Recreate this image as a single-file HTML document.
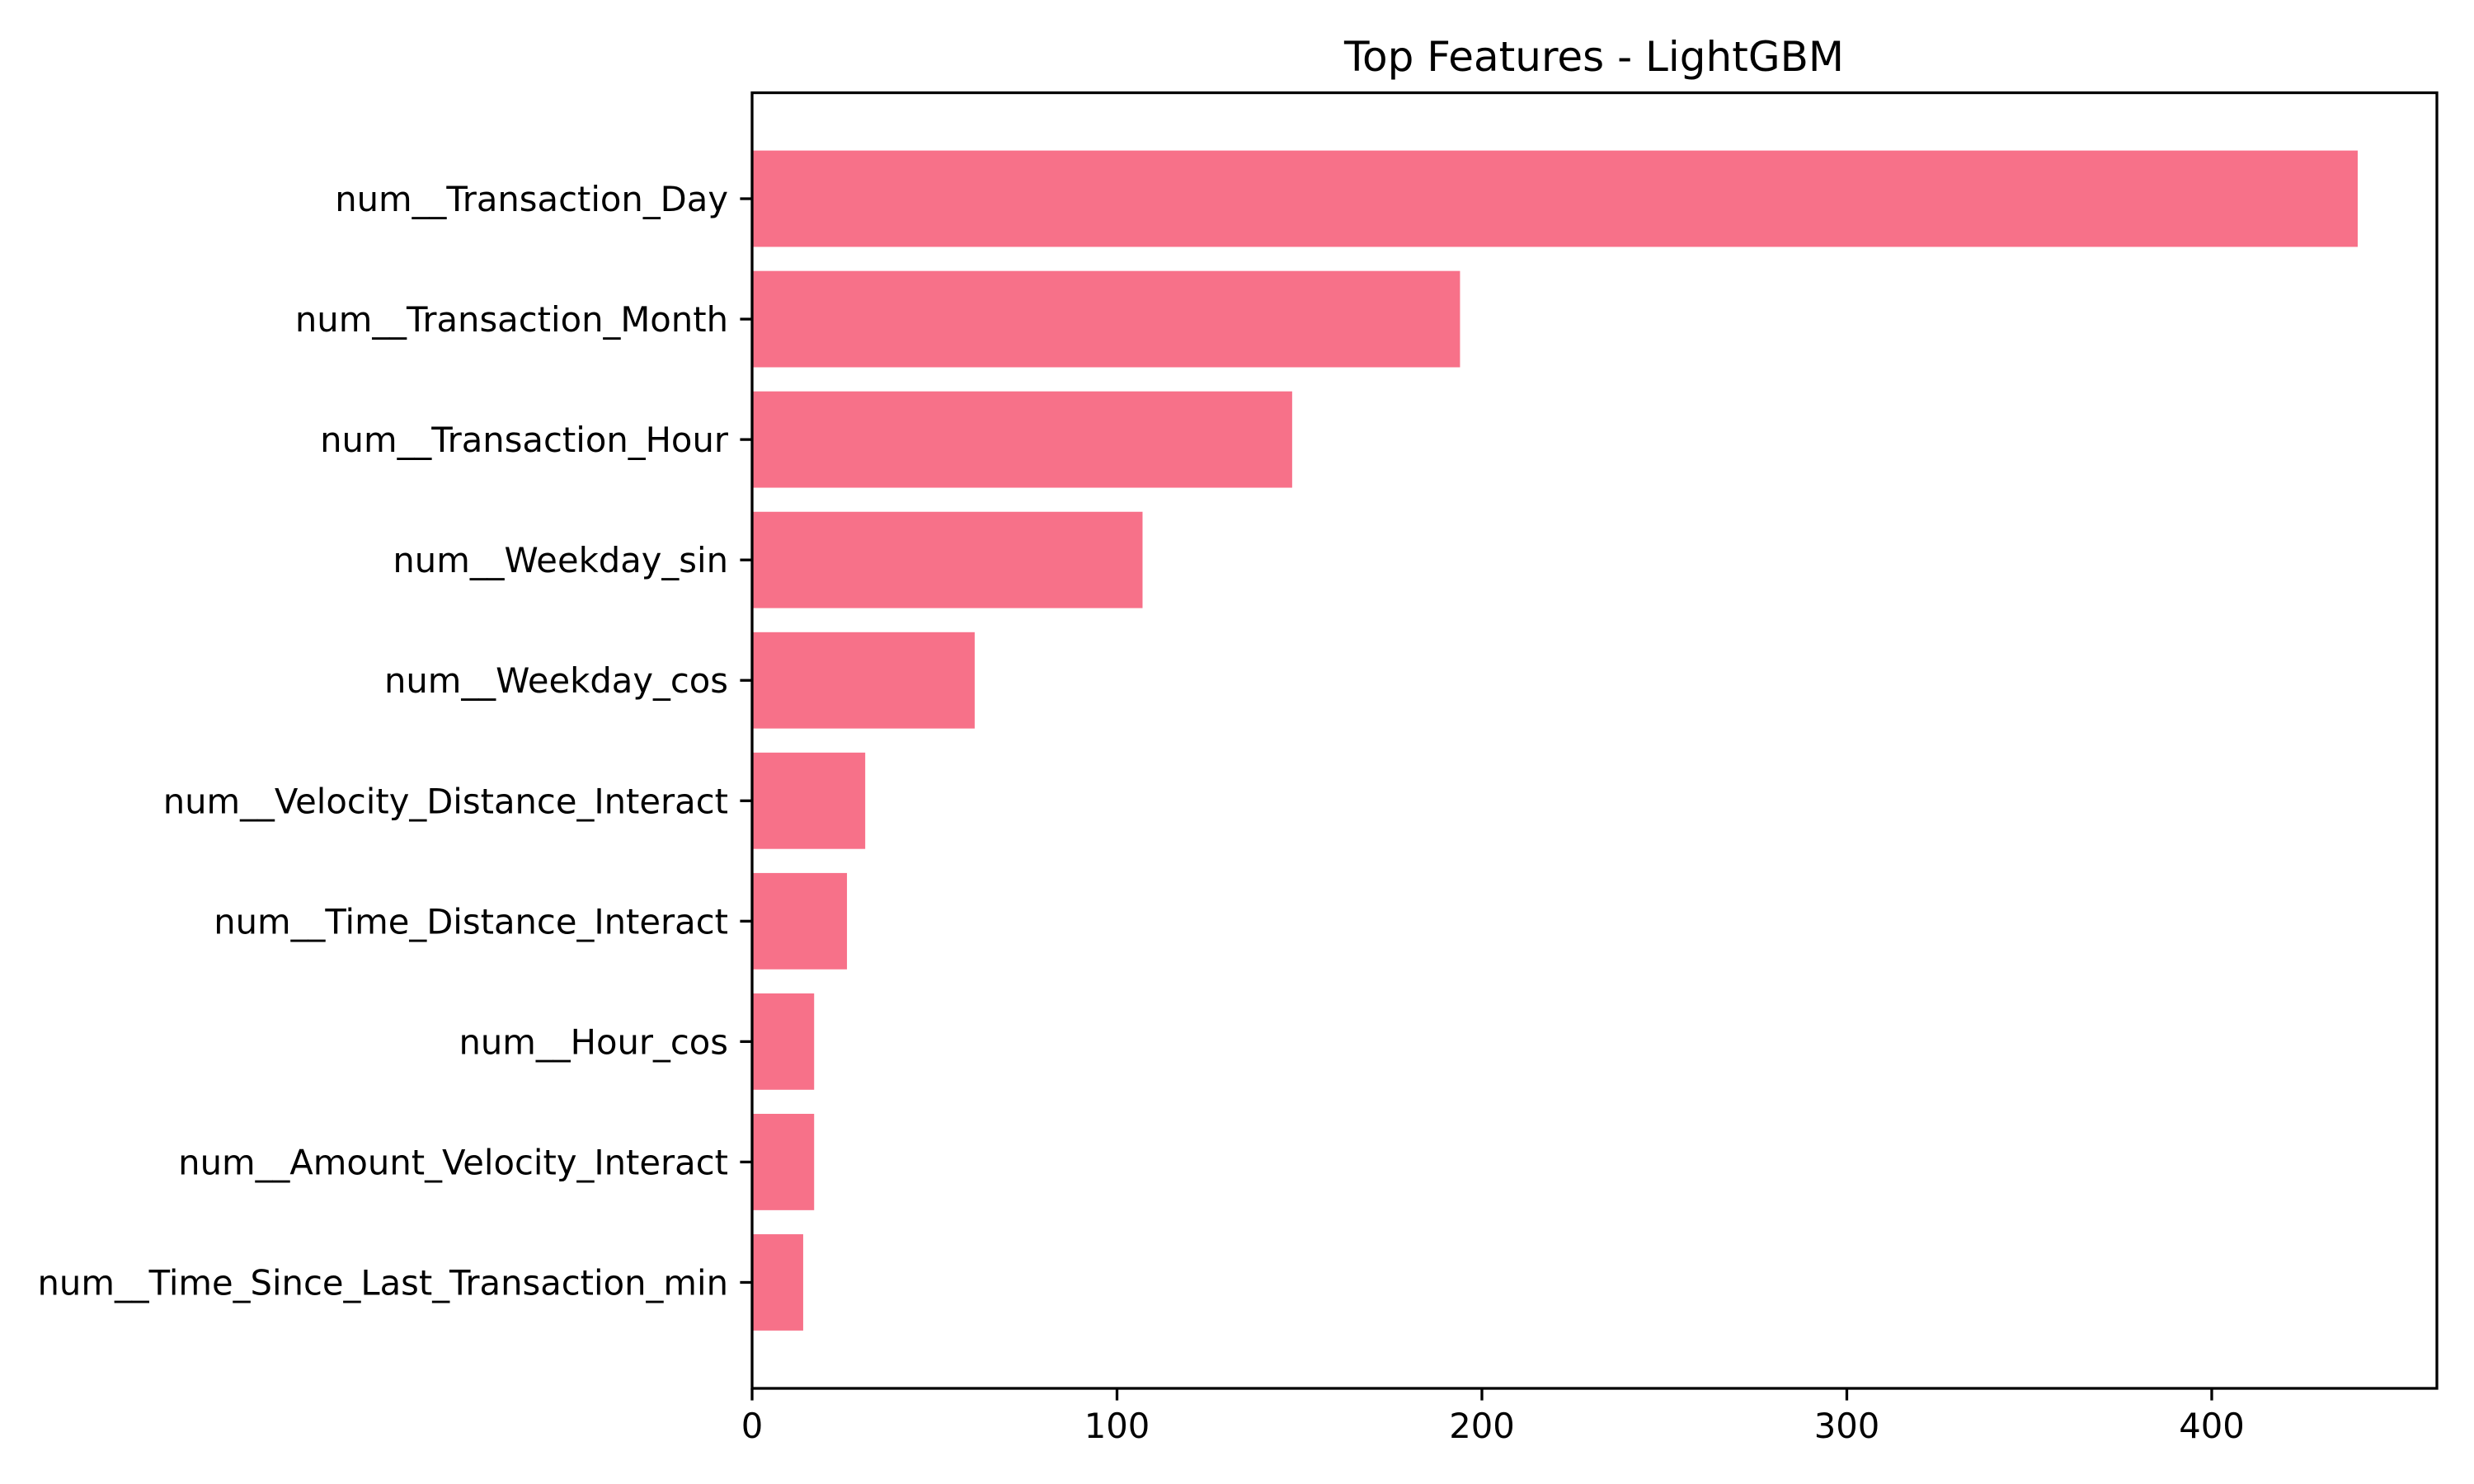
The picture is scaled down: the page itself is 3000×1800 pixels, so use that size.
<!DOCTYPE html>
<html><head><meta charset="utf-8"><style>
html,body{margin:0;padding:0;background:#fff;}
svg{display:block;font-family:"DejaVu Sans","Liberation Sans",sans-serif;}
</style></head><body>
<svg id="chart" width="3000" height="1800" viewBox="0 0 3000 1800" xmlns="http://www.w3.org/2000/svg">
<rect width="3000" height="1800" fill="#fff"/>
<text x="1933" y="86" font-size="50" text-anchor="middle">Top Features - LightGBM</text>
<g id="bars"></g>
<g id="yticks"></g>
<g id="xticks"></g>
<rect x="912" y="112.5" width="2043" height="1571.5" fill="none" stroke="#000" stroke-width="3.3"/>
</svg>
<script>
const categories = ["num__Transaction_Day","num__Transaction_Month","num__Transaction_Hour","num__Weekday_sin","num__Weekday_cos","num__Velocity_Distance_Interact","num__Time_Distance_Interact","num__Hour_cos","num__Amount_Velocity_Interact","num__Time_Since_Last_Transaction_min"];
const importance = [440,194,148,107,61,31,26,17,17,14];
const xTicks = [0,100,200,300,400];
const xMax = 461.7;

const NS = "http://www.w3.org/2000/svg";
const L = 912, R = 2955, T = 112.5, B = 1684;
const n = categories.length;
const margin = 0.38;
const step = (B - T) / (n - 1 + 2 * (0.5 + margin));
function xs(v){ return L + (v / xMax) * (R - L); }
function ys(i){ return T + step * (0.5 + margin + i); }
function mk(tag, attrs){ const e = document.createElementNS(NS, tag); for (const k in attrs) e.setAttribute(k, attrs[k]); return e; }

const gb = document.getElementById('bars'), gy = document.getElementById('yticks'), gx = document.getElementById('xticks');
categories.forEach((c, i) => {
  const h = step * 0.8, cy = ys(i);
  const r = mk('rect', {x: xs(0), y: cy - h/2, width: xs(importance[i]) - xs(0), height: h, fill: '#f77189'});
  
  
  gb.appendChild(r);
  const t = mk('line', {x1: L - 14.6, x2: L, y1: cy, y2: cy, stroke: '#000', 'stroke-width': 3.3});
  
  
  gy.appendChild(t);
  const lb = mk('text', {x: L - 29, y: cy + 15, 'font-size': 41.7, 'text-anchor': 'end'});
  lb.textContent = c;
  
  
  gy.appendChild(lb);
});
xTicks.forEach(v => {
  const x = xs(v);
  const t = mk('line', {x1: x, x2: x, y1: B, y2: B + 14.6, stroke: '#000', 'stroke-width': 3.3});
  
  
  gx.appendChild(t);
  const lb = mk('text', {x: x, y: B + 29 + 31, 'font-size': 41.7, 'text-anchor': 'middle'});
  lb.textContent = v;
  
  
  gx.appendChild(lb);
});
</script>
</body></html>
